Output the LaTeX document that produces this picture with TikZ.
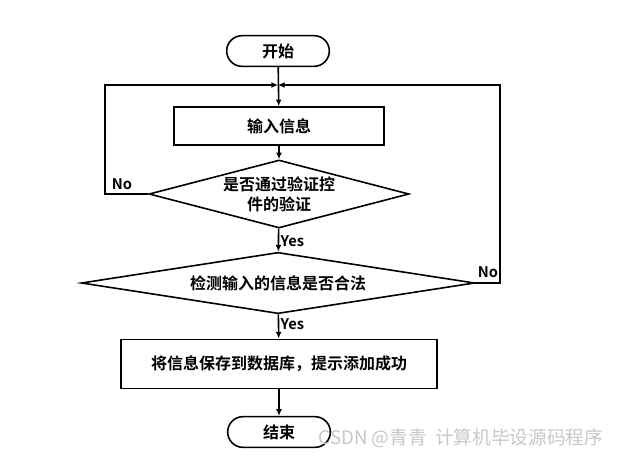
\documentclass[tikz,border=0pt]{standalone}
\usepackage{fontspec}
\setmainfont{Noto Sans CJK SC}[BoldFont={Noto Sans CJK SC Bold}]
\usetikzlibrary{shapes.geometric,arrows.meta}
\tikzset{
        base/.style={draw=black, line width=1.2pt, inner sep=2pt, align=center},
        term/.style={base, rectangle, rounded corners=11.5pt, minimum width=77pt, minimum height=23pt},
        proc/.style={base, rectangle, minimum height=28.5pt},
        decide/.style={base, diamond, inner sep=0pt},
        flow/.style={line width=1.2pt, -{Latex[length=5pt,width=4.5pt]}},
        tag/.style={inner sep=1pt, font=\bfseries\fontsize{11}{13}\selectfont}
          }
\begin{document}
\begin{tikzpicture}[x=0.75pt, y=-0.75pt, font=\bfseries\fontsize{12}{15}\selectfont]
        \useasboundingbox (0,0) rectangle (635,457);
        % nodes
        \node[term] (start) at (278,51) {开始};
        \node[proc, minimum width=157.5pt] (input) at (279,126) {输入信息};
        \node[decide, shape aspect=3.8, minimum width=195pt, minimum height=51pt] (check) at (279,194) {是否通过验证控\\件的验证};
        \node[decide, shape aspect=6, minimum width=295pt, minimum height=46pt] (valid) at (278,283) {检测输入的信息是否合法};
        \node[proc, minimum width=237pt, minimum height=37pt] (save) at (279,364) {将信息保存到数据库，提示添加成功};
        \node[term] (stop) at (279,432) {结束};
        \coordinate (join) at (278,85);
        \coordinate (lft) at (105,85);
        \coordinate (rgt) at (500,85);
        % connectors
        \draw[flow] (start) -- (input);
        \draw[flow] (input) -- (check);
        \draw[flow] (check) -- node[tag, right, yshift=-1pt] {Yes} (valid);
        \draw[flow] (valid) -- node[tag, right, yshift=1.5pt] {Yes} (save);
        \draw[flow] (save) -- (stop);
        \draw[flow] (check.west) -| (lft) -- (join);
        \draw[flow] (valid.east) -| (rgt) -- (join);
        \node[tag] (no1) at (122,184) {No};
        \node[tag] (no2) at (488,272) {No};
        % watermark
        \node[text=black!22, font=\fontsize{14}{16}\selectfont, anchor=west] (mark) at (314,438) {CSDN @青青\ \ 计算机毕设源码程序};
\end{tikzpicture}
\end{document}
